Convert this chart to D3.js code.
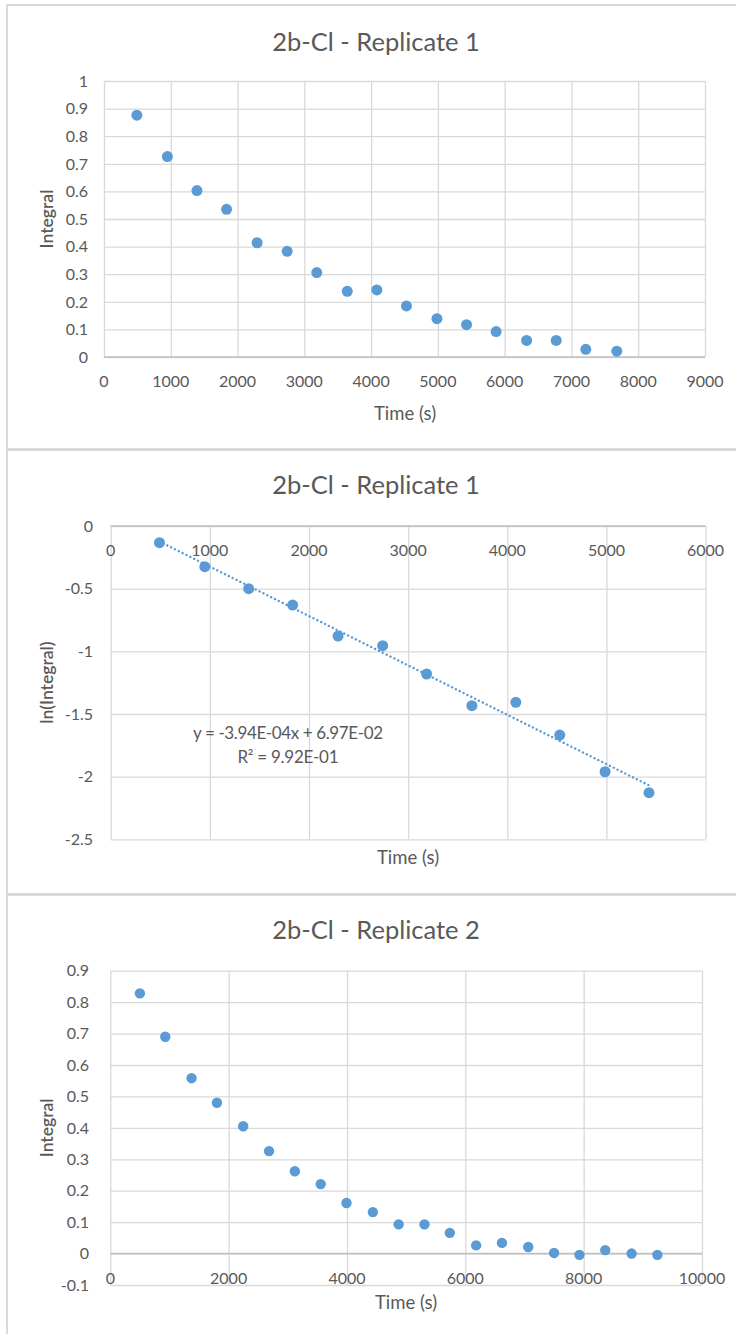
<!DOCTYPE html>
<html>
<head>
<meta charset="utf-8">
<script src="https://cdn.jsdelivr.net/npm/d3@7"></script>
<style>
  html, body { margin: 0; padding: 0; background: #ffffff; }
  svg { display: block; }
  text { font-family: Lato, "Open Sans", sans-serif; fill: #595959; }
</style>
</head>
<body>
<svg id="chart" width="736" height="1334"></svg>
<script>
// Replicate 1: time (s) and integral
const rep1Time = [492, 949, 1392, 1835, 2293, 2743, 3186, 3643, 4086, 4529, 4986, 5429, 5872, 6329, 6772, 7215, 7679];
const rep1Integral = [0.876, 0.726, 0.603, 0.535, 0.414, 0.383, 0.306, 0.238, 0.243, 0.185, 0.139, 0.117, 0.092, 0.060, 0.060, 0.028, 0.021];

// Replicate 1: ln(integral) over the first 12 time points
const lnTime = [492, 949, 1392, 1835, 2293, 2743, 3186, 3643, 4086, 4529, 4986, 5429];
const lnIntegral = [-0.133, -0.325, -0.500, -0.631, -0.878, -0.955, -1.181, -1.434, -1.407, -1.668, -1.961, -2.128];
const fitSlope = -3.94e-4;
const fitIntercept = 6.97e-2;
const fitEquation = "y = -3.94E-04x + 6.97E-02";
const fitR2 = "R² = 9.92E-01";

// Replicate 2: time (s) and integral
const rep2Time = [500, 929, 1373, 1802, 2246, 2683, 3119, 3556, 3992, 4437, 4873, 5310, 5738, 6183, 6619, 7063, 7500, 7929, 8365, 8810, 9246];
const rep2Integral = [0.828, 0.690, 0.558, 0.480, 0.405, 0.326, 0.262, 0.221, 0.161, 0.132, 0.093, 0.093, 0.066, 0.026, 0.034, 0.021, 0.002, -0.004, 0.011, 0.000, -0.004];

// Tick values
const ticksX1 = [0, 1000, 2000, 3000, 4000, 5000, 6000, 7000, 8000, 9000];
const ticksY1 = [0, 0.1, 0.2, 0.3, 0.4, 0.5, 0.6, 0.7, 0.8, 0.9, 1];
const ticksX2 = [0, 1000, 2000, 3000, 4000, 5000, 6000];
const ticksY2 = [0, -0.5, -1, -1.5, -2, -2.5];
const ticksX3 = [0, 2000, 4000, 6000, 8000, 10000];
const ticksY3 = [-0.1, 0, 0.1, 0.2, 0.3, 0.4, 0.5, 0.6, 0.7, 0.8, 0.9];

const svg = d3.select("#chart");
const BLUE = "#5B9BD5";
const GRID = "#D9D9D9";
const AXIS = "#BFBFBF";

svg.append("rect").attr("width", 736).attr("height", 1334).attr("fill", "#fff");

// chart frames
const frame = svg.append("g").attr("stroke", "#D9D9D9").attr("fill", "none");
frame.append("line").attr("x1", 7).attr("x2", 7).attr("y1", 4).attr("y2", 1334).attr("stroke-width", 2);
frame.append("line").attr("x1", 6).attr("x2", 736).attr("y1", 5).attr("y2", 5).attr("stroke-width", 2);
frame.append("line").attr("x1", 6).attr("x2", 736).attr("y1", 449.5).attr("y2", 449.5).attr("stroke-width", 3);
frame.append("line").attr("x1", 6).attr("x2", 736).attr("y1", 894.5).attr("y2", 894.5).attr("stroke-width", 3);

// plain hyphen for negatives, one decimal where needed
const numLabel = d => String(+(+d).toFixed(1));

function panel(o) {
  const g = svg.append("g");
  const x = d3.scaleLinear().domain(o.xDomain).range([o.left, o.right]);
  const y = d3.scaleLinear().domain(o.yDomain).range([o.bottom, o.top]);

  // vertical gridlines
  g.append("g")
    .attr("transform", `translate(0,${o.bottom})`)
    .call(d3.axisBottom(x).tickValues(o.xTicks).tickSize(-(o.bottom - o.top)).tickFormat(""))
    .call(s => s.select(".domain").remove())
    .call(s => s.selectAll("line").attr("stroke", GRID).attr("stroke-width", 1.3));

  // horizontal gridlines
  g.append("g")
    .attr("transform", `translate(${o.left},0)`)
    .call(d3.axisLeft(y).tickValues(o.yTicks).tickSize(-(o.right - o.left)).tickFormat(""))
    .call(s => s.select(".domain").remove())
    .call(s => s.selectAll("line").attr("stroke", GRID).attr("stroke-width", 1.3));

  // horizontal axis line at y = 0
  g.append("line")
    .attr("x1", o.left).attr("x2", o.right)
    .attr("y1", y(0)).attr("y2", y(0))
    .attr("stroke", AXIS).attr("stroke-width", 1.5);

  // y tick labels
  g.append("g").selectAll("text").data(o.yTicks).join("text")
    .attr("x", o.yLabelRight).attr("y", d => y(d)).attr("dy", "0.36em")
    .attr("text-anchor", "end").attr("font-size", 16)
    .text(numLabel);

  // x tick labels, placed next to the y = 0 axis
  g.append("g").selectAll("text").data(o.xTicks).join("text")
    .attr("x", d => x(d)).attr("y", y(0) + o.xLabelOffset).attr("dy", "0.36em")
    .attr("text-anchor", "middle").attr("font-size", 16)
    .text(d => d);

  // title and axis titles
  g.append("text").attr("x", 376).attr("y", o.titleY).attr("dy", "0.36em")
    .attr("text-anchor", "middle").attr("font-size", 25.5).text(o.title);
  g.append("text").attr("x", o.xTitleX).attr("y", o.xTitleY).attr("dy", "0.36em")
    .attr("text-anchor", "middle").attr("font-size", 18.5).text("Time (s)");
  g.append("text")
    .attr("transform", `translate(47,${(o.top + o.bottom) / 2}) rotate(-90)`)
    .attr("dy", "0.36em").attr("text-anchor", "middle").attr("font-size", 17.5)
    .attr("font-weight", 600)
    .text(o.yTitle);

  return { g, x, y };
}

// Replicate 1: integral vs time
const p1 = panel({
  left: 104, right: 705, top: 81, bottom: 357,
  xDomain: [0, 9000], yDomain: [0, 1],
  xTicks: ticksX1, yTicks: ticksY1,
  yLabelRight: 88, xLabelOffset: 24,
  title: "2b-Cl - Replicate 1", titleY: 42,
  xTitleX: 405, xTitleY: 413, yTitle: "Integral"
});
p1.g.append("g").selectAll("circle").data(rep1Time).join("circle")
  .attr("cx", d => p1.x(d)).attr("cy", (d, i) => p1.y(rep1Integral[i]))
  .attr("r", 5.5).attr("fill", BLUE);

// Replicate 1: ln(integral) vs time with linear fit
const p2 = panel({
  left: 110.7, right: 705.6, top: 526, bottom: 839.3,
  xDomain: [0, 6000], yDomain: [-2.5, 0],
  xTicks: ticksX2, yTicks: ticksY2,
  yLabelRight: 93, xLabelOffset: 24,
  title: "2b-Cl - Replicate 1", titleY: 485,
  xTitleX: 408, xTitleY: 857, yTitle: "ln(Integral)"
});
const fitX = d3.extent(lnTime);
p2.g.append("line")
  .attr("x1", p2.x(fitX[0])).attr("y1", p2.y(fitSlope * fitX[0] + fitIntercept))
  .attr("x2", p2.x(fitX[1])).attr("y2", p2.y(fitSlope * fitX[1] + fitIntercept))
  .attr("stroke", BLUE).attr("stroke-width", 2.4)
  .attr("stroke-linecap", "round").attr("stroke-dasharray", "0.1 4.2");
p2.g.append("g").selectAll("circle").data(lnTime).join("circle")
  .attr("cx", d => p2.x(d)).attr("cy", (d, i) => p2.y(lnIntegral[i]))
  .attr("r", 5.5).attr("fill", BLUE);
p2.g.append("text").attr("x", 288).attr("y", 733).attr("dy", "0.36em")
  .attr("text-anchor", "middle").attr("font-size", 17)
  .attr("textLength", 190).attr("lengthAdjust", "spacing").text(fitEquation);
p2.g.append("text").attr("x", 288).attr("y", 756.5).attr("dy", "0.36em")
  .attr("text-anchor", "middle").attr("font-size", 17)
  .attr("textLength", 101).attr("lengthAdjust", "spacing").text(fitR2);

// Replicate 2: integral vs time
const p3 = panel({
  left: 110.3, right: 702, top: 970.7, bottom: 1285,
  xDomain: [0, 10000], yDomain: [-0.1, 0.9],
  xTicks: ticksX3, yTicks: ticksY3,
  yLabelRight: 89, xLabelOffset: 25,
  title: "2b-Cl - Replicate 2", titleY: 930,
  xTitleX: 406, xTitleY: 1302, yTitle: "Integral"
});
p3.g.append("g").selectAll("circle").data(rep2Time).join("circle")
  .attr("cx", d => p3.x(d)).attr("cy", (d, i) => p3.y(rep2Integral[i]))
  .attr("r", 5.2).attr("fill", BLUE);
</script>
</body>
</html>
